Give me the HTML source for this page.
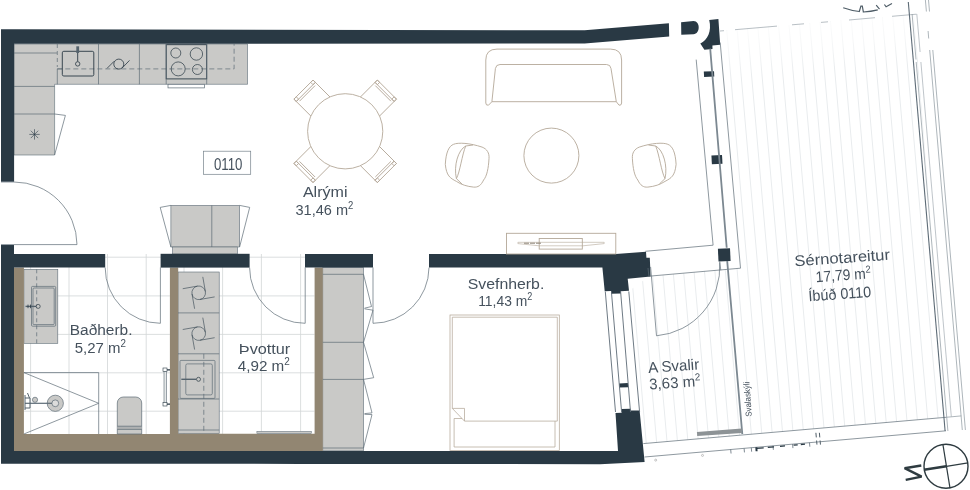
<!DOCTYPE html><html><head><meta charset="utf-8"><title>Floor plan 0110</title><style>html,body{margin:0;padding:0;background:#fff;overflow:hidden}svg text{font-family:"Liberation Sans",sans-serif}</style></head><body><svg width="970" height="490" viewBox="0 0 970 490" style="display:block">
<rect width="970" height="490" fill="#fff"/>
<clipPath id="deckA"><polygon points="719.2,31 914.3,14.4 946,417.3 741.5,435 728,269.3 740.5,268.2 720.2,42.5"/></clipPath><clipPath id="deckB"><polygon points="649,276.2 728,269.3 741.8,435 643.3,443.6 639.6,410.6 629,291"/></clipPath>
<g clip-path="url(#deckA)" stroke="#e9ecee" stroke-width="1" fill="none">
<line x1="525.60" y1="0" x2="568.13" y2="490"/>
<line x1="536.05" y1="0" x2="578.58" y2="490"/>
<line x1="546.50" y1="0" x2="589.03" y2="490"/>
<line x1="556.95" y1="0" x2="599.48" y2="490"/>
<line x1="567.40" y1="0" x2="609.93" y2="490"/>
<line x1="577.85" y1="0" x2="620.38" y2="490"/>
<line x1="588.30" y1="0" x2="630.83" y2="490"/>
<line x1="598.75" y1="0" x2="641.28" y2="490"/>
<line x1="609.20" y1="0" x2="651.73" y2="490"/>
<line x1="619.65" y1="0" x2="662.18" y2="490"/>
<line x1="630.10" y1="0" x2="672.63" y2="490"/>
<line x1="640.55" y1="0" x2="683.08" y2="490"/>
<line x1="651.00" y1="0" x2="693.53" y2="490"/>
<line x1="661.45" y1="0" x2="703.98" y2="490"/>
<line x1="671.90" y1="0" x2="714.43" y2="490"/>
<line x1="682.35" y1="0" x2="724.88" y2="490"/>
<line x1="692.80" y1="0" x2="735.33" y2="490"/>
<line x1="703.25" y1="0" x2="745.78" y2="490"/>
<line x1="713.70" y1="0" x2="756.23" y2="490"/>
<line x1="724.15" y1="0" x2="766.68" y2="490"/>
<line x1="734.60" y1="0" x2="777.13" y2="490"/>
<line x1="745.05" y1="0" x2="787.58" y2="490"/>
<line x1="755.50" y1="0" x2="798.03" y2="490"/>
<line x1="765.95" y1="0" x2="808.48" y2="490"/>
<line x1="776.40" y1="0" x2="818.93" y2="490"/>
<line x1="786.85" y1="0" x2="829.38" y2="490"/>
<line x1="797.30" y1="0" x2="839.83" y2="490"/>
<line x1="807.75" y1="0" x2="850.28" y2="490"/>
<line x1="818.20" y1="0" x2="860.73" y2="490"/>
<line x1="828.65" y1="0" x2="871.18" y2="490"/>
<line x1="839.10" y1="0" x2="881.63" y2="490"/>
<line x1="849.55" y1="0" x2="892.08" y2="490"/>
<line x1="860.00" y1="0" x2="902.53" y2="490"/>
<line x1="870.45" y1="0" x2="912.98" y2="490"/>
<line x1="880.90" y1="0" x2="923.43" y2="490"/>
<line x1="891.35" y1="0" x2="933.88" y2="490"/>
<line x1="901.80" y1="0" x2="944.33" y2="490"/>
<line x1="912.25" y1="0" x2="954.78" y2="490"/>
<line x1="922.70" y1="0" x2="965.23" y2="490"/>
<line x1="933.15" y1="0" x2="975.68" y2="490"/>
<line x1="943.60" y1="0" x2="986.13" y2="490"/>
<line x1="954.05" y1="0" x2="996.58" y2="490"/>
</g>
<g clip-path="url(#deckB)" stroke="#e9ecee" stroke-width="1" fill="none">
<line x1="524.20" y1="0" x2="566.73" y2="490"/>
<line x1="534.65" y1="0" x2="577.18" y2="490"/>
<line x1="545.10" y1="0" x2="587.63" y2="490"/>
<line x1="555.55" y1="0" x2="598.08" y2="490"/>
<line x1="566.00" y1="0" x2="608.53" y2="490"/>
<line x1="576.45" y1="0" x2="618.98" y2="490"/>
<line x1="586.90" y1="0" x2="629.43" y2="490"/>
<line x1="597.35" y1="0" x2="639.88" y2="490"/>
<line x1="607.80" y1="0" x2="650.33" y2="490"/>
<line x1="618.25" y1="0" x2="660.78" y2="490"/>
<line x1="628.70" y1="0" x2="671.23" y2="490"/>
<line x1="639.15" y1="0" x2="681.68" y2="490"/>
<line x1="649.60" y1="0" x2="692.13" y2="490"/>
<line x1="660.05" y1="0" x2="702.58" y2="490"/>
<line x1="670.50" y1="0" x2="713.03" y2="490"/>
<line x1="680.95" y1="0" x2="723.48" y2="490"/>
<line x1="691.40" y1="0" x2="733.93" y2="490"/>
<line x1="701.85" y1="0" x2="744.38" y2="490"/>
<line x1="712.30" y1="0" x2="754.83" y2="490"/>
<line x1="722.75" y1="0" x2="765.28" y2="490"/>
<line x1="733.20" y1="0" x2="775.73" y2="490"/>
<line x1="743.65" y1="0" x2="786.18" y2="490"/>
<line x1="754.10" y1="0" x2="796.63" y2="490"/>
<line x1="764.55" y1="0" x2="807.08" y2="490"/>
<line x1="775.00" y1="0" x2="817.53" y2="490"/>
<line x1="785.45" y1="0" x2="827.98" y2="490"/>
<line x1="795.90" y1="0" x2="838.43" y2="490"/>
<line x1="806.35" y1="0" x2="848.88" y2="490"/>
<line x1="816.80" y1="0" x2="859.33" y2="490"/>
<line x1="827.25" y1="0" x2="869.78" y2="490"/>
<line x1="837.70" y1="0" x2="880.23" y2="490"/>
<line x1="848.15" y1="0" x2="890.68" y2="490"/>
<line x1="858.60" y1="0" x2="901.13" y2="490"/>
<line x1="869.05" y1="0" x2="911.58" y2="490"/>
<line x1="879.50" y1="0" x2="922.03" y2="490"/>
<line x1="889.95" y1="0" x2="932.48" y2="490"/>
<line x1="900.40" y1="0" x2="942.93" y2="490"/>
<line x1="910.85" y1="0" x2="953.38" y2="490"/>
<line x1="921.30" y1="0" x2="963.83" y2="490"/>
<line x1="931.75" y1="0" x2="974.28" y2="490"/>
<line x1="942.20" y1="0" x2="984.73" y2="490"/>
<line x1="952.65" y1="0" x2="995.18" y2="490"/>
</g>
<linearGradient id="fade" gradientUnits="userSpaceOnUse" x1="719" y1="29" x2="723.4" y2="80"><stop offset="0" stop-color="#fff" stop-opacity="0.85"/><stop offset="0.5" stop-color="#fff" stop-opacity="0.55"/><stop offset="1" stop-color="#fff" stop-opacity="0"/></linearGradient><polygon points="719,31 914.3,14.4 920,80 724.5,97" fill="url(#fade)"/>
<clipPath id="tiles"><rect x="23.9" y="254" width="146" height="180"/><rect x="178" y="254" width="136.5" height="180"/></clipPath>
<g clip-path="url(#tiles)" stroke="#d2d5d7" stroke-width="0.8" fill="none">
<line x1="30.6" y1="250" x2="30.6" y2="440"/>
<line x1="69.0" y1="250" x2="69.0" y2="440"/>
<line x1="107.5" y1="250" x2="107.5" y2="440"/>
<line x1="146.2" y1="250" x2="146.2" y2="440"/>
<line x1="184.0" y1="250" x2="184.0" y2="440"/>
<line x1="222.6" y1="250" x2="222.6" y2="440"/>
<line x1="261.4" y1="250" x2="261.4" y2="440"/>
<line x1="300.6" y1="250" x2="300.6" y2="440"/>
<line x1="14" y1="257.2" x2="320" y2="257.2"/>
<line x1="14" y1="295.9" x2="320" y2="295.9"/>
<line x1="14" y1="334.4" x2="320" y2="334.4"/>
<line x1="14" y1="372.8" x2="320" y2="372.8"/>
<line x1="14" y1="411.2" x2="320" y2="411.2"/>
</g>
<g fill="#c9c9c7" stroke="#5d6b76" stroke-width="0.6">
<path d="M14,44 H247.5 V84.3 H54.6 V155 H14 Z"/>
<rect x="170.9" y="205.4" width="68.7" height="41.6"/>
<rect x="172.6" y="247" width="64.9" height="7"/>
<rect x="23.9" y="269.3" width="33.9" height="74"/>
<rect x="178" y="272" width="41.2" height="161.6"/>
<rect x="322.8" y="267.5" width="40.7" height="183.4"/>
</g>
<g fill="#928672">
<path d="M14,267.4 H23.9 V434 H169.9 V267.4 H178.2 V433.8 H314.6 V267.4 H322.8 V451 H14 Z"/>
</g>
<g fill="#293944">
<path d="M1,29.2 H14 L584.7,30.3 L668.9,23.3 L669.2,36.6 L584.7,43.5 L14.1,43.8 V181.8 H1 Z"/>
<path d="M681.1,22.2 L693.5,21 C700.5,21 700.5,34 693.5,34.2 L681.3,34.8 Z"/>
<path d="M709.2,19.9 L718.4,19 L720.2,44.7 L712.4,45.6 L712.5,49 L704.4,49.8 L700.3,43.5 C707.5,40 712,31 709.2,19.9 Z"/>
<path d="M1,245 H14 V254 H105.2 V267.5 H14 V451 H618 L615.5,413 L621.6,412.8 L621.5,409 L630.5,408.8 L630.6,410.6 L639.6,410.4 L644.6,462 L600,464.2 L300,463.9 L1,463.7 Z"/>
<rect x="160.6" y="253.8" width="89" height="13.8"/>
<rect x="305" y="254" width="68" height="13.5"/>
<path d="M429,254 H615.8 L646,251.7 L646.4,257.8 L649.8,257.7 L650.6,276.4 L627.7,278.8 L629,290.8 L620.7,291.2 L620.8,293.5 L611.2,293.8 L611.1,291 L604.7,291.2 L602.4,267.6 H429 Z"/>
<polygon points="703.8,71.6 714,71.2 714.3,76.6 704.1,77"/>
<polygon points="711.4,155.5 722,155 722.5,163.8 711.9,164.3"/>
<polygon points="717.9,248.8 730,248.2 730.6,261 718.5,261.6"/>
<polygon points="619.2,383.4 627.9,383 628.2,387.2 619.5,387.6"/>
</g>
<g fill="none" stroke="#5d6b76" stroke-width="0.7">
<line x1="98.5" y1="44" x2="98.5" y2="84.3"/>
<line x1="139.4" y1="44" x2="139.4" y2="84.3"/>
<line x1="14" y1="86.4" x2="54.6" y2="86.4"/>
<line x1="14" y1="114" x2="54.6" y2="114"/>
<line x1="14" y1="53" x2="57" y2="53"/>
<path d="M57.3,44 V67" stroke-dasharray="4 3"/><path d="M57.3,84.3 V68.9 H62"/>
<path d="M57.3,68.9 H234.1 V44" stroke-dasharray="5 3"/>
<rect x="62.3" y="51.3" width="31.5" height="24.7" rx="1.5" stroke="#293944" stroke-width="0.9"/>
<line x1="77.7" y1="46.3" x2="77.7" y2="53" stroke="#55636d" stroke-width="2.8"/><line x1="77.7" y1="53" x2="77.7" y2="61.6" stroke="#293944" stroke-width="0.9"/>
<circle cx="77.7" cy="63.9" r="2.2" fill="#c9c9c7" stroke="#293944" stroke-width="0.8"/>
<path d="M107,68.4 L114.2,61.2 M122,68.2 L129.5,60.4" stroke="#293944" stroke-width="0.8"/><circle cx="118.8" cy="64.1" r="5" stroke="#293944" stroke-width="0.8"/>
<rect x="166.2" y="44.7" width="40.5" height="34.2" stroke="#293944" stroke-width="0.9"/>
<line x1="166.2" y1="44" x2="166.2" y2="84.3"/><line x1="206.7" y1="44" x2="206.7" y2="84.3"/>
<circle cx="175.8" cy="53" r="5" stroke="#293944"/><circle cx="196.4" cy="54" r="6.2" stroke="#293944"/><circle cx="178.2" cy="68.9" r="7" stroke="#293944"/><circle cx="197.4" cy="69.5" r="5" stroke="#293944"/>
<rect x="168" y="84.3" width="36.6" height="3.6" fill="#fff"/>
<path d="M54.6,114 L65.4,115.4 L54.6,155"/>
<path d="M34.5,129.2 V139.6 M29.3,134.4 H39.7 M30.8,130.7 L38.2,138.1 M30.8,138.1 L38.2,130.7" stroke="#293944" stroke-width="0.6"/>
<line x1="211.8" y1="205.4" x2="211.8" y2="247"/>
<path d="M170.9,205.4 L160.2,207.4 L170.9,247"/><path d="M239.6,205.4 L249.7,207.4 L239.6,247"/>
<path d="M1,182 H14 A63,63 0 0 1 77,244.6 H1"/>
<path d="M160.4,267.4 V323.3 A55.6,55.6 0 0 1 105.2,267.6"/>
<path d="M305.2,267.4 V323.3 A55.6,55.6 0 0 1 249.6,267.6"/>
<path d="M373,267.4 V323.3 A56,56 0 0 0 429,267.6"/>
<path d="M36.7,269.3 V343.3" stroke-dasharray="4 3"/>
<rect x="31.5" y="286.4" width="24.2" height="39.8" rx="1"/><rect x="33" y="288" width="21.2" height="36.6" rx="1"/>
<path d="M25.5,306.4 H36" stroke="#55636d" stroke-width="1.4"/><path d="M28,304.6 V308.2 M30.5,304.6 V308.2" stroke="#293944" stroke-width="0.8"/><circle cx="38.2" cy="306.4" r="2" fill="#c9c9c7" stroke="#293944"/>
<path d="M23.9,372.6 H98.7 V434 M23.9,372.6 L98.7,403.3 L23.9,434"/>
<circle cx="55.3" cy="403.3" r="8.1" fill="#c9c9c7"/><circle cx="55.3" cy="403.3" r="3.4" fill="#dcdcdb"/>
<path d="M25,403.3 H52" stroke-width="1.2"/><path d="M25,395 V410 M25,398 H30 V408 H25 M27.5,393 L29.5,398" stroke="#55636d" stroke-width="1"/><circle cx="35" cy="399.8" r="2.6" fill="#c9c9c7"/>
<path d="M117.3,434 V403 A6,6 0 0 1 123.3,397 H135.7 A6,6 0 0 1 141.7,403 V434 Z" fill="#c9c9c7"/><rect x="117.3" y="426.2" width="24.4" height="3.2" fill="#aeb1b2" stroke="none"/><path d="M117.3,426.2 H141.7 M117.3,429.4 H141.7"/>
<rect x="164" y="371" width="2.6" height="32" fill="#e6e8e9" stroke-width="0.6"/><rect x="163" y="368" width="4" height="3.6" fill="#fff" stroke="#293944" stroke-width="0.6"/><rect x="163" y="402.4" width="4" height="3.6" fill="#fff" stroke="#293944" stroke-width="0.6"/><path d="M167,369.8 H170 M167,404.2 H170" stroke="#293944" stroke-width="1.2"/>
<line x1="178" y1="312.9" x2="219.2" y2="312.9"/><line x1="178" y1="353.8" x2="219.2" y2="353.8"/><line x1="178" y1="399" x2="219.2" y2="399"/><line x1="178" y1="430" x2="219.2" y2="430"/>
<g transform="translate(198.7,292.8) rotate(-10)" stroke="#3a4954" stroke-width="0.6"><circle r="6.8"/><path d="M-15,-6.8 H0 M6.8,-15 V0 M15,6.8 H0 M-6.8,15 V0"/></g>
<g transform="translate(198.7,333.6) rotate(-10)" stroke="#3a4954" stroke-width="0.6"><circle r="6.8"/><path d="M-15,-6.8 H0 M6.8,-15 V0 M15,6.8 H0 M-6.8,15 V0"/></g>
<rect x="180" y="360.4" width="35" height="38" rx="1"/><rect x="185.8" y="363.9" width="26.5" height="31" rx="1.5"/>
<path d="M203.8,353.8 V433.6" stroke-dasharray="5 3"/>
<path d="M181.3,379.3 H196.4" stroke="#55636d" stroke-width="1.4"/><circle cx="198.5" cy="379.3" r="2" fill="#c9c9c7" stroke="#293944"/>
<rect x="256.9" y="431.3" width="54.4" height="2.4" fill="#c9c9c7" stroke-width="0.5"/>
<line x1="322.8" y1="274.3" x2="363.5" y2="274.3"/>
<line x1="322.8" y1="342.3" x2="363.5" y2="342.3"/>
<line x1="322.8" y1="379.4" x2="363.5" y2="379.4"/>
<line x1="322.8" y1="448" x2="363.5" y2="448"/>
<path d="M363.5,274.3 L371.5,306.5 L364.5,308.2 M364.5,308.8 L373,310.2 L363.5,342.3"/>
<path d="M363.5,342.3 L373.7,377.7 L363.5,379.4"/>
<path d="M363.5,379.4 L372,412.9 L364.5,413.6 M364.5,414.3 L372,414.6 L363.5,448"/>
</g>
<g fill="none" stroke="#b4a899" stroke-width="0.9">
<g transform="translate(345.2,131.3) rotate(45)"><rect x="32" y="-13.5" width="27" height="27"/><line x1="55.7" y1="-13.5" x2="55.7" y2="13.5"/><line x1="53.6" y1="-11" x2="53.6" y2="11"/><rect x="55.7" y="-13.5" width="3.3" height="3.3"/><rect x="55.7" y="10.2" width="3.3" height="3.3"/></g>
<g transform="translate(345.2,131.3) rotate(135)"><rect x="32" y="-13.5" width="27" height="27"/><line x1="55.7" y1="-13.5" x2="55.7" y2="13.5"/><line x1="53.6" y1="-11" x2="53.6" y2="11"/><rect x="55.7" y="-13.5" width="3.3" height="3.3"/><rect x="55.7" y="10.2" width="3.3" height="3.3"/></g>
<g transform="translate(345.2,131.3) rotate(225)"><rect x="32" y="-13.5" width="27" height="27"/><line x1="55.7" y1="-13.5" x2="55.7" y2="13.5"/><line x1="53.6" y1="-11" x2="53.6" y2="11"/><rect x="55.7" y="-13.5" width="3.3" height="3.3"/><rect x="55.7" y="10.2" width="3.3" height="3.3"/></g>
<g transform="translate(345.2,131.3) rotate(315)"><rect x="32" y="-13.5" width="27" height="27"/><line x1="55.7" y1="-13.5" x2="55.7" y2="13.5"/><line x1="53.6" y1="-11" x2="53.6" y2="11"/><rect x="55.7" y="-13.5" width="3.3" height="3.3"/><rect x="55.7" y="10.2" width="3.3" height="3.3"/></g>
<circle cx="345.2" cy="131.3" r="37.6" fill="#fff"/>
<path d="M485.8,103 V60 Q485.8,49.1 497,49.1 H610.5 Q621.6,49.1 621.6,60 V103 Q621.6,105.6 619,105.2 L616.3,101.7 L611,68.5 Q610.5,64.5 606.5,64.5 H500 Q496,64.5 495.4,68.5 L491.9,101.7 L488.5,105.2 Q485.8,105.6 485.8,103 Z M491.9,101.7 H616.3"/>
<circle cx="551.4" cy="155.6" r="27.5"/>
<path d="M445.3,164.3 C446,152 449,146 453.6,144.3 C458,142.3 470,143 482.1,147.1 C487,149 489.5,153 489,158.6 C488.5,168 487,176 483.6,180 C481,185.5 478,187.5 473.6,187.1 C467,186.5 461,184.5 456.4,181.4 C450,178 446.5,176 445.3,164.3 Z M465.7,146 C458,150 453.5,166 456.4,178.6 C460,172 462,155 465.7,146 Z M465.7,146 L473,145 M456.4,178.6 L462,184"/>
<g transform="translate(1121.4,0) scale(-1,1)"><path d="M445.3,164.3 C446,152 449,146 453.6,144.3 C458,142.3 470,143 482.1,147.1 C487,149 489.5,153 489,158.6 C488.5,168 487,176 483.6,180 C481,185.5 478,187.5 473.6,187.1 C467,186.5 461,184.5 456.4,181.4 C450,178 446.5,176 445.3,164.3 Z M465.7,146 C458,150 453.5,166 456.4,178.6 C460,172 462,155 465.7,146 Z M465.7,146 L473,145 M456.4,178.6 L462,184"/></g>
<rect x="506.5" y="233.3" width="109.3" height="20.7"/><rect x="539.2" y="238.5" width="43.1" height="10.6"/>
<path d="M517.9,242.3 H604.2 V243.6 L583,245.8 H539 L517.9,243.6 Z" stroke-width="0.6"/>
<path d="M524,243.2 H541" stroke="#8d8577" stroke-width="1" stroke-dasharray="5 1"/>
<g stroke-width="0.75">
<rect x="450" y="315" width="109.3" height="135.4"/>
<path d="M452.3,408.4 V317.2 H557.3 V421.1 H464.5 V408.4 H452.3 L464.5,421.1"/>
<path d="M462,418.5 H454.1 V447 H555 V421.1"/>
</g>
</g>
<g fill="none" stroke="#5d6b76" stroke-width="0.7">
<path d="M696.2,59.6 L713.1,245.2 L645.3,251.3"/>
<path d="M720.2,42.5 L740.5,268.2 L649,276.2"/>
<path d="M710.2,48.6 L726.7,247.8 M727.2,261 L742.3,434" stroke="#7c8891" stroke-width="1.8"/>
<path d="M719.7,261.3 L720.8,270.3"/>
<path d="M650.6,266.9 L656.5,335.8 A69.2,69.2 0 0 0 719.7,262.4"/>
<path d="M648,268 L649,277"/>
<line x1="605.3" y1="291.5" x2="615.5" y2="412" stroke-width="0.9"/>
<line x1="611.4" y1="291.5" x2="621.6" y2="412" stroke-width="0.9"/>
<line x1="620.6" y1="291.5" x2="630.5" y2="412" stroke-width="0.9"/>
<line x1="628.8" y1="291.5" x2="639.6" y2="412" stroke-width="0.9"/>
<path d="M643.3,443.6 L946,417.3"/>
<path d="M644.5,457 L946,430.8"/>
<path d="M720,31.0 L724,30.7 M735,29.7 L777,26.1 M792,24.8 L804,23.8 M821,22.4 L828,21.8 M849,20.0 L875,17.7 M892,16.3 L916.5,14.2" stroke="#9aa4ab"/>
<path d="M908.3,2 L945.1,431" stroke="#5d6b76" stroke-width="1.1"/>
<path d="M912.1,14 L916.0,59.5 M916.2,62 L947.9,431" stroke="#8b969e"/>
<path d="M916.8,14 L920.1,52 M920.9,62 L951.3,416.5" stroke="#a3acb3"/>
<path d="M925.4,0 L926.4,11.5 M928.1,31 L928.7,38.5 M929.7,50 L962.3,430" stroke="#8b969e"/>
<path d="M928.5,0 L929.5,11.5 M932.8,50 L965.4,430" stroke="#8b969e"/>
<path d="M946,417.3 L961.3,415.9" stroke="#8b969e"/>
<path d="M843.2,7.8 Q851,10.6 859.3,11.5 L860.9,6.2 H862.3 L863.4,12 Q871,11.6 877.8,9.9 M876.2,5.1 L879.5,9.1 M884.4,4.5 L886.1,6.8 L892,3.5" stroke="#4f5d67" stroke-width="1.2"/>
<path d="M730.7,449.5 L731.05,453.5 M744.1,448.4 L744.45,452.4 M751.3,447.7 L751.65,451.7 M773,445.8 L773.35,449.8 M792.6,444.1 L792.95,448.1 M809.5,442.7 L809.85,446.7" stroke-width="0.8"/>
<path d="M756.5,448.4 L763.7,447.8 M767.8,447.4 L774,446.9 M780,446.3 L785,445.9 M793.6,445.2 L797.7,444.8 M800.8,444.5 L805,444.2" stroke="#293944" stroke-width="1.3"/>
<path d="M756.3,447.3 L756.6,451.3" stroke="#293944" stroke-width="2"/>
<path d="M815.9,432.8 L816.3,437.4 M816.6,440.5 L816.95,444.6 M819.4,432.8 L819.8,437.4 M820.1,440.5 L820.45,444.6" stroke="#4f5d67" stroke-width="1"/>
<circle cx="655.7" cy="460.1" r="1" stroke="#aaa"/><circle cx="702.5" cy="455.4" r="1" stroke="#aaa"/>
</g>
<polygon points="696.9,431.9 741.7,428.4 742,433 697.2,435.9" fill="#8d9396"/>
<g fill="none" stroke="#2e3b40">
<circle cx="946" cy="466.2" r="22" stroke-width="1.4"/>
<path d="M942.9,444.3 L950,488.2" stroke-width="1.2"/>
<path d="M946.4,466.3 L968,462.8" stroke-width="1.2"/>
<path d="M924,469.8 L946.4,466.3" stroke-width="2.4"/>
<path d="M921.3,465.5 L904.6,468.2 L921.6,476.6 L905.7,479.9" stroke-width="2.4" stroke-linejoin="bevel"/>
</g>
<rect x="203.5" y="151.2" width="47.2" height="23.1" fill="#fff" stroke="#76828b" stroke-width="0.7"/>
<g opacity="0.99">
<text x="213.9" y="169.5" font-size="16.4" fill="#434f5b" textLength="28.5" lengthAdjust="spacingAndGlyphs">0110</text>
<text x="302.9" y="197" font-size="15.3" fill="#434f5b" textLength="44.6" lengthAdjust="spacingAndGlyphs">Alrými</text>
<text x="295.5" y="214.5" font-size="15.3" fill="#434f5b" textLength="57.9" lengthAdjust="spacingAndGlyphs">31,46 m<tspan font-size="10" dy="-6">2</tspan></text>
<text x="69.8" y="334.8" font-size="15.3" fill="#434f5b" textLength="62.7" lengthAdjust="spacingAndGlyphs">Baðherb.</text>
<text x="74.7" y="352.5" font-size="15.3" fill="#434f5b" textLength="51.2" lengthAdjust="spacingAndGlyphs">5,27 m<tspan font-size="10" dy="-6">2</tspan></text>
<text x="238.8" y="353.6" font-size="15.3" fill="#434f5b" textLength="51.5" lengthAdjust="spacingAndGlyphs">Þvottur</text>
<text x="237.8" y="370.8" font-size="15.3" fill="#434f5b" textLength="52" lengthAdjust="spacingAndGlyphs">4,92 m<tspan font-size="10" dy="-6">2</tspan></text>
<text x="467.7" y="288.8" font-size="15.3" fill="#434f5b" textLength="76.6" lengthAdjust="spacingAndGlyphs">Svefnherb.</text>
<text x="478.2" y="305.8" font-size="15.3" fill="#434f5b" textLength="54.1" lengthAdjust="spacingAndGlyphs">11,43 m<tspan font-size="10" dy="-6">2</tspan></text>
<text x="648.4" y="372.9" font-size="15.3" fill="#434f5b" textLength="51.2" lengthAdjust="spacingAndGlyphs" transform="rotate(-4 648.4 372.9)">A Svalir</text>
<text x="649.5" y="389.6" font-size="15.3" fill="#434f5b" textLength="51.6" lengthAdjust="spacingAndGlyphs" transform="rotate(-4 649.5 389.6)">3,63 m<tspan font-size="10" dy="-6">2</tspan></text>
<text x="794.8" y="266.3" font-size="15.3" fill="#434f5b" textLength="95.7" lengthAdjust="spacingAndGlyphs" transform="rotate(-4 794.8 266.3)">Sérnotareitur</text>
<text x="816" y="282.2" font-size="15.3" fill="#434f5b" textLength="55.3" lengthAdjust="spacingAndGlyphs" transform="rotate(-4 816 282.2)">17,79 m<tspan font-size="10" dy="-6">2</tspan></text>
<text x="808.8" y="301.3" font-size="15.3" fill="#434f5b" textLength="62.8" lengthAdjust="spacingAndGlyphs" transform="rotate(-4 808.8 301.3)">Íbúð 0110</text>
<text x="751.8" y="416.5" font-size="8.6" fill="#434f5b" textLength="35" lengthAdjust="spacingAndGlyphs" transform="rotate(-94 751.8 416.5)">Svalaskýli</text>
</g>
</svg></body></html>
